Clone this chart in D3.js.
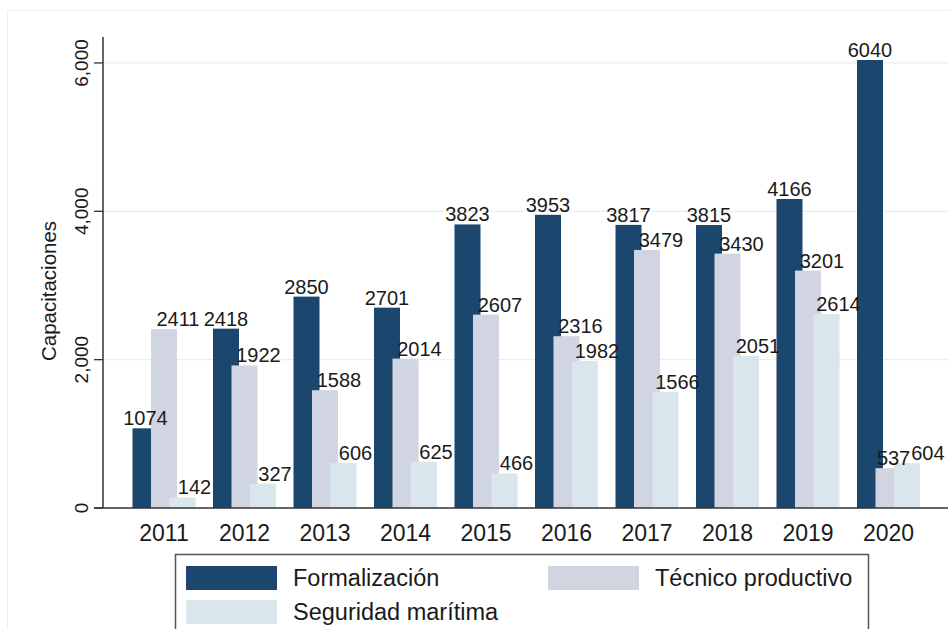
<!doctype html>
<html lang="es">
<head>
<meta charset="utf-8">
<script src="https://d3js.org/d3.v7.min.js"></script>
<style>
  body { margin: 0; background: #fff; }
  svg text { font-family: "Liberation Sans", Arial, sans-serif; fill: #1a1a1a; }
</style>
</head>
<body>
<svg id="svg" width="950" height="629"></svg>
<script>
// data
const years = ["2011", "2012", "2013", "2014", "2015", "2016", "2017", "2018", "2019", "2020"];
const series = ["Formalización", "Técnico productivo", "Seguridad marítima"];
const formalizacion = [1074, 2418, 2850, 2701, 3823, 3953, 3817, 3815, 4166, 6040];
const tecnico = [2411, 1922, 1588, 2014, 2607, 2316, 3479, 3430, 3201, 537];
const seguridad = [142, 327, 606, 625, 466, 1982, 1566, 2051, 2614, 604];
const yTicks = [0, 2000, 4000, 6000];

const colors = ["#1b466e", "#d1d5e1", "#d9e6eb"];
const labelShift = [0, 14, 12];

let width = 950, height = 629;
let svg = d3.select("#svg");

// faint outer frame of the graph region
svg.append("rect")
    .attr("x", 7.5).attr("y", 10.5)
    .attr("width", width).attr("height", height)
    .attr("fill", "none").attr("stroke", "#efefef");

let x0 = d3.scaleBand().domain(years).range([123.75, 928.75]).paddingInner(0);
let x1 = d3.scalePoint().domain(series).range([0, 37]);
let barW = 26;
let y = d3.scaleLinear().domain([0, 6350]).range([508, 37]);
let axisX = 103, plotRight = 948;

let rows = [];
series.forEach((s, i) => {
    let vals = [formalizacion, tecnico, seguridad][i];
    years.forEach((yr, j) => rows.push({ s: s, i: i, year: yr, value: vals[j] }));
});

function barX(d) {
    return x0(d.year) + x0.bandwidth() / 2 - 31.5 + x1(d.s);
}

// gridlines
svg.append("g").selectAll("line")
    .data(yTicks.filter(t => t > 0))
    .join("line")
    .attr("x1", axisX).attr("x2", plotRight)
    .attr("y1", d => y(d)).attr("y2", d => y(d))
    .attr("stroke", "#e6eff2").attr("stroke-width", 1.2);

// bars
svg.append("g").selectAll("rect")
    .data(rows)
    .join("rect")
    .attr("x", barX)
    .attr("y", d => y(d.value))
    .attr("width", barW)
    .attr("height", d => y(0) - y(d.value))
    .attr("fill", d => colors[d.i]);

// value labels
let labels = svg.append("g").selectAll("text")
    .data(rows)
    .join("text")
    .attr("x", d => barX(d) + barW / 2 + labelShift[d.i])
    .attr("y", d => y(d.value) - 3)
    .attr("text-anchor", "middle")
    .attr("font-size", 20)
    .text(d => d.value);

// spread two labels of the same year apart if they run into each other
years.forEach(yr => {
    let grp = labels.filter(d => d.year === yr).nodes();
    for (let k = 1; k < grp.length; k++) {
        let a = grp[k - 1].getBBox(), b = grp[k].getBBox();
        let vOverlap = a.y < b.y + b.height && b.y < a.y + a.height;
        if (vOverlap && b.x < a.x + a.width) {
            let dx = (a.x + a.width - b.x + 1) / 2;
            grp[k - 1].setAttribute("x", +grp[k - 1].getAttribute("x") - dx);
            grp[k].setAttribute("x", +grp[k].getAttribute("x") + dx);
        }
    }
});

// y axis
let yAxis = svg.append("g").attr("transform", `translate(${axisX},0)`);
yAxis.append("line")
    .attr("x1", 0).attr("x2", 0)
    .attr("y1", y.range()[1]).attr("y2", y(0))
    .attr("stroke", "#333").attr("stroke-width", 1.5);
yAxis.selectAll(".tk")
    .data(yTicks)
    .join("line")
    .attr("x1", -9).attr("x2", 0)
    .attr("y1", d => y(d)).attr("y2", d => y(d))
    .attr("stroke", "#333").attr("stroke-width", 1.3);
yAxis.selectAll(".tl")
    .data(yTicks)
    .join("text")
    .attr("transform", d => `translate(-15,${y(d)}) rotate(-90)`)
    .attr("text-anchor", "middle")
    .attr("font-size", 19)
    .text(d => d3.format(",")(d));

svg.append("text")
    .attr("transform", "translate(56,291) rotate(-90)")
    .attr("text-anchor", "middle")
    .attr("font-size", 20.5)
    .text("Capacitaciones");

// x axis
svg.append("line")
    .attr("x1", axisX - 9).attr("x2", plotRight)
    .attr("y1", y(0)).attr("y2", y(0))
    .attr("stroke", "#333").attr("stroke-width", 1.5);
svg.append("g").selectAll("text")
    .data(years)
    .join("text")
    .attr("x", d => x0(d) + x0.bandwidth() / 2)
    .attr("y", 541)
    .attr("text-anchor", "middle")
    .attr("font-size", 23)
    .text(d => d);

// legend
let legend = svg.append("g");
legend.append("rect")
    .attr("x", 175.5).attr("y", 554.5)
    .attr("width", 693).attr("height", 90)
    .attr("fill", "#fff").attr("stroke", "#555").attr("stroke-width", 1.5);
let legPos = [[186, 566], [548, 566], [186, 600]];
series.forEach((s, i) => {
    let [lx, ly] = legPos[i];
    legend.append("rect")
        .attr("x", lx).attr("y", ly)
        .attr("width", 91).attr("height", 24)
        .attr("fill", colors[i]);
    legend.append("text")
        .attr("x", lx + 107).attr("y", ly + 20)
        .attr("font-size", 23.5)
        .text(s);
});
</script>
</body>
</html>
